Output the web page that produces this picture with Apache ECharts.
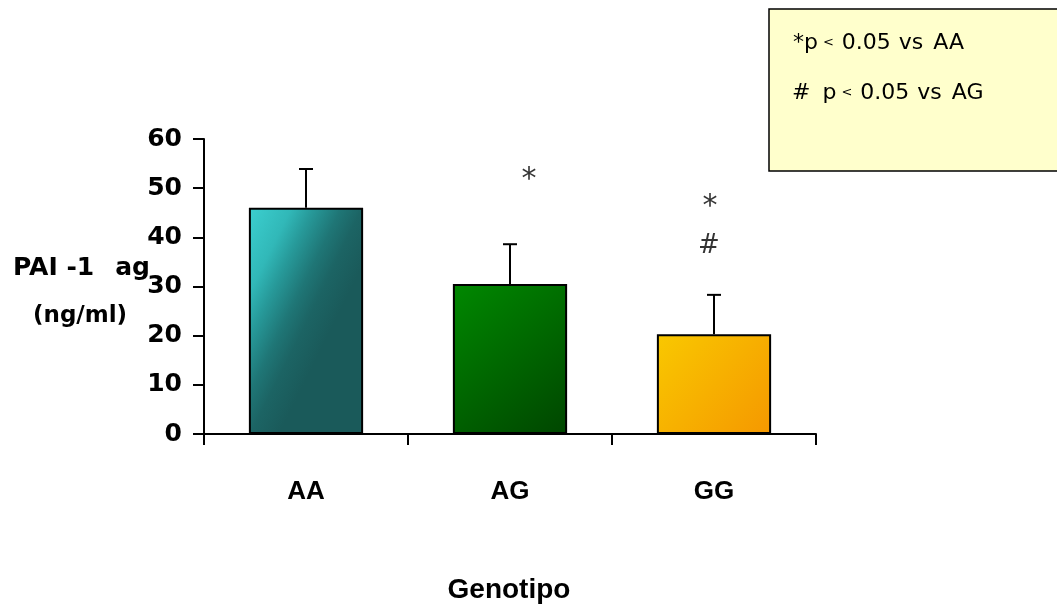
<!DOCTYPE html>
<html><head><meta charset="utf-8">
<script src="https://cdn.jsdelivr.net/npm/echarts@6/dist/echarts.min.js"></script>
<style>html,body{margin:0;padding:0;background:#fff}#c{width:1057px;height:611px}</style>
</head><body><div id="c"></div>
<script>
const categories = ['AA', 'AG', 'GG'];
const means = [46.0, 30.5, 20.3];
const errorTops = [53.9, 38.6, 28.3];
const yTicks = [0, 10, 20, 30, 40, 50, 60];
// significance marks: [categoryIndex, value, text]
const marks = [[1, 53.2, '*'], [2, 47.7, '*'], [2, 38.5, '#']];
const legendLines = [['*p', '<', '0.05', 'vs', 'AA'], ['#', 'p', '<', '0.05', 'vs', 'AG']];

// label offsets (pixels) for the significance marks, same order as marks
const markOffsets = [[19, 8], [-4, 8], [-5, 2]];

const fills = [
  {type:'linear', x:0, y:0, x2:1, y2:0.25, colorStops:[{offset:0,color:'#3cd0d0'},{offset:0.3,color:'#31b8b8'},{offset:0.45,color:'#279a9a'},{offset:0.65,color:'#1f7676'},{offset:0.8,color:'#1c6464'},{offset:1,color:'#1a5a5a'}]},
  {type:'linear', x:0, y:0, x2:1, y2:1, colorStops:[{offset:0,color:'#008800'},{offset:1,color:'#004600'}]},
  {type:'linear', x:0, y:0, x2:1, y2:1, colorStops:[{offset:0,color:'#f9c800'},{offset:1,color:'#f59800'}]}
];

const chart = echarts.init(document.getElementById('c'));
const arial = 'Liberation Sans, Arial, sans-serif';
const dvs = 'DejaVu Sans, Verdana, sans-serif';

function legendRich(parts, gaps) {
  let s = '';
  parts.forEach((p, i) => {
    const key = p === '<' ? 's' : 'a';
    s += '{' + key + '|' + p + '}';
    if (i < parts.length - 1) s += '{g' + gaps[i] + '| }';
  });
  return s;
}
const richBase = {
  a:{fontSize:22, fontFamily:dvs, color:'#000'},
  s:{fontSize:13, fontFamily:dvs, color:'#000'},
  g5:{fontSize:22, fontFamily:dvs, width:5}, g8:{fontSize:22, fontFamily:dvs, width:8},
  g10:{fontSize:22, fontFamily:dvs, width:10}, g12:{fontSize:22, fontFamily:dvs, width:12}
};

chart.setOption({
  animation:false,
  backgroundColor:'#fff',
  grid:{left:204, right:241, top:139, bottom:177},
  xAxis:{type:'category', data:categories, boundaryGap:true,
    axisLine:{lineStyle:{color:'#000', width:2}},
    axisTick:{show:true, length:11, lineStyle:{color:'#000', width:2}},
    axisLabel:{color:'#000', fontFamily:arial, fontWeight:'bold', fontSize:26, margin:45}},
  yAxis:{type:'value', min:0, max:60, interval:10,
    axisLine:{show:true, lineStyle:{color:'#000', width:2}},
    axisTick:{show:true, length:11, lineStyle:{color:'#000', width:2}},
    splitLine:{show:false},
    axisLabel:{color:'#000', fontFamily:dvs, fontWeight:'bold', fontSize:25, margin:22,
      formatter:v => yTicks.includes(v) ? String(v) : ''}},
  series:[
    {type:'bar', barWidth:'56%', z:2,
      data:means.map((v,i)=>({value:v, itemStyle:{color:fills[i], borderColor:'#000', borderWidth:2}}))},
    {type:'custom', z:3,
      data:categories.map((c,i)=>[i, means[i], errorTops[i]]),
      renderItem:(params, api)=>{
        const base = api.coord([api.value(0), api.value(1)]);
        const top = api.coord([api.value(0), api.value(2)]);
        return {type:'group', children:[
          {type:'line', shape:{x1:base[0], y1:base[1], x2:top[0], y2:top[1]}, style:{stroke:'#000', lineWidth:2}},
          {type:'line', shape:{x1:top[0]-7, y1:top[1], x2:top[0]+7, y2:top[1]}, style:{stroke:'#000', lineWidth:2}}
        ]};
      }},
    {type:'scatter', symbolSize:0, z:4,
      data:marks.map((m, i)=>({value:[m[0], m[1]], name:m[2],
        label:{show:true, position:'inside', color:'#000', fontFamily:dvs,
          fontSize:m[2] === '*' ? 30 : 26, offset:markOffsets[i], formatter:m[2]}})),
      label:{show:true, position:'inside', color:'#000'}}
  ],
  graphic:[
    {type:'rect', shape:{x:769, y:9, width:300, height:162}, style:{fill:'#ffffcc', stroke:'#000', lineWidth:1.5}, z:1},
    {type:'text', x:793, y:43, z:2, style:{text:legendRich(legendLines[0], [5, 8, 8, 10]), verticalAlign:'middle', rich:richBase}},
    {type:'text', x:792, y:93, z:2, style:{text:legendRich(legendLines[1], [12, 5, 8, 8, 10]), verticalAlign:'middle', rich:richBase}},
    {type:'text', x:13, y:268, z:2, style:{text:'{b|PAI -1}{g| }{b|ag}', verticalAlign:'middle',
      rich:{b:{fontSize:25, fontWeight:'bold', fontFamily:dvs, color:'#000'}, g:{fontSize:25, fontFamily:dvs, width:21}}}},
    {type:'text', x:33, y:316, z:2, style:{text:'(ng/ml)', font:'bold 23px '+dvs, fill:'#000', verticalAlign:'middle'}},
    {type:'text', x:509, y:590, z:2, style:{text:'Genotipo', font:'bold 28px '+arial, fill:'#000', align:'center', verticalAlign:'middle'}}
  ]
});
</script></body></html>
